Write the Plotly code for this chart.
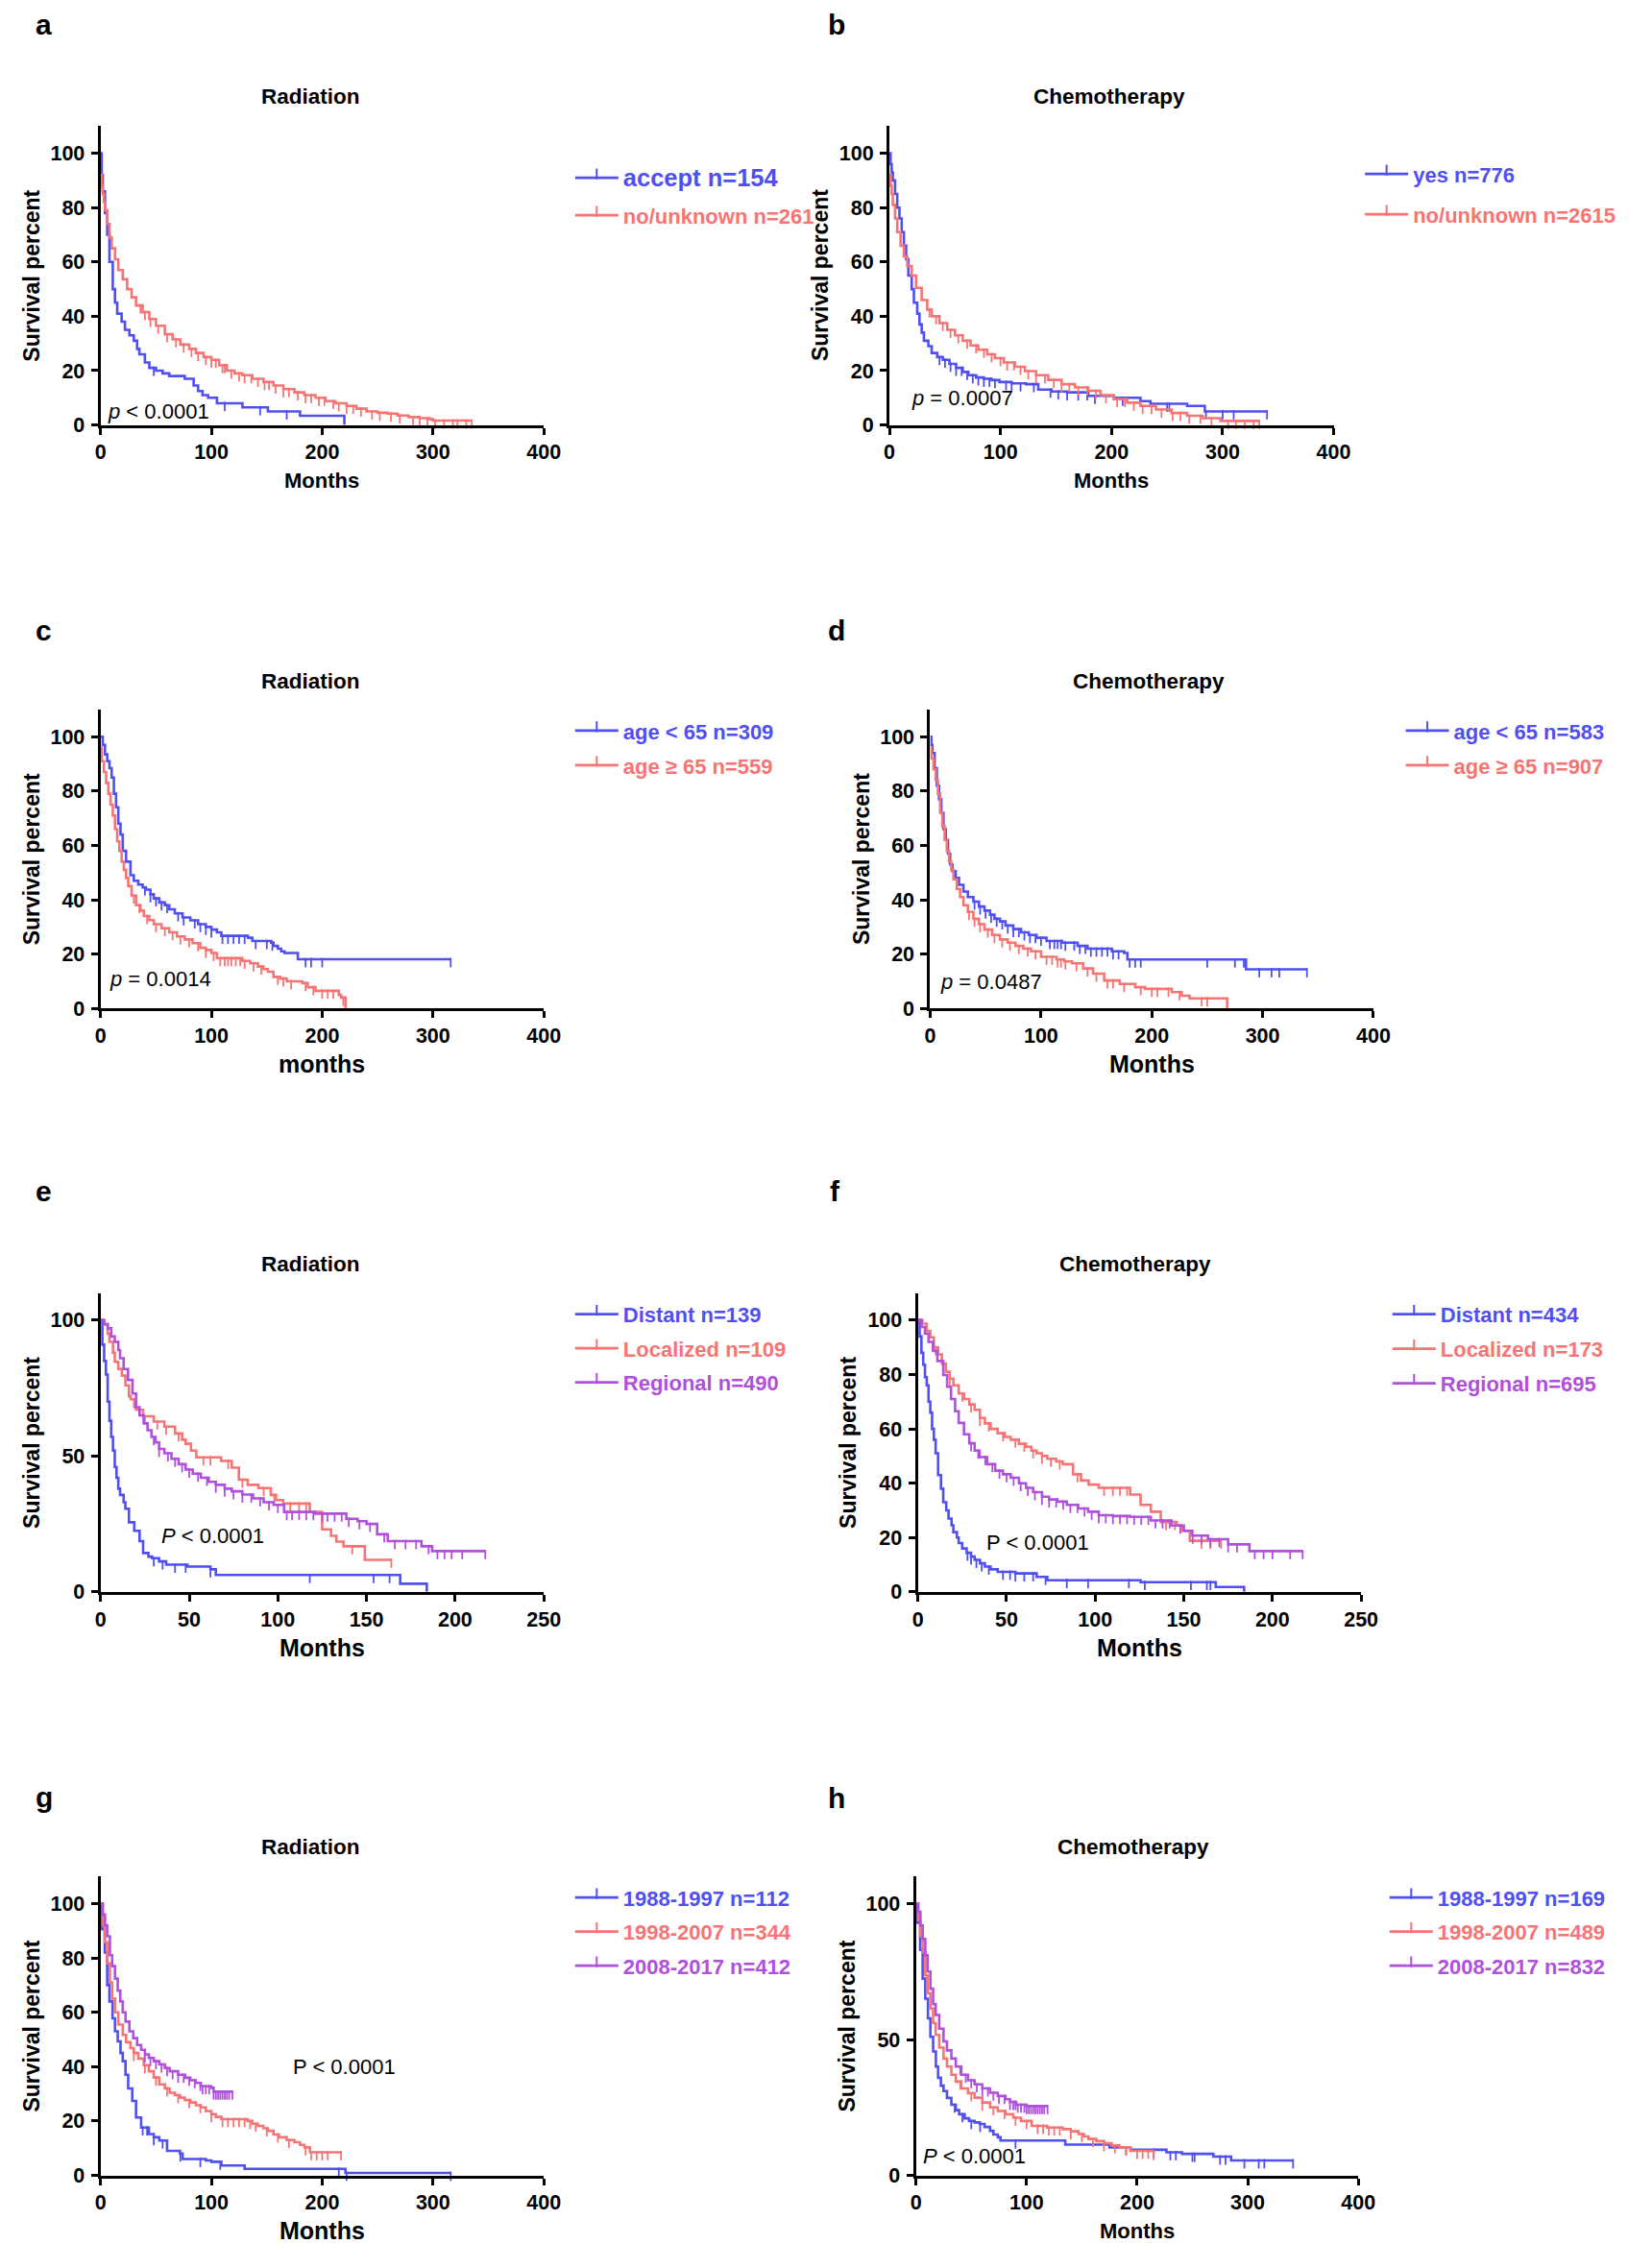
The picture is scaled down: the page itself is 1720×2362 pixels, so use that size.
import numpy as np
import plotly.graph_objects as go

W, H = 1720, 2362
OFF_X, OFF_Y = 10, 8  # page body margin compensation
BLUE, RED, PURPLE = '#4F4FF2', '#F77474', '#B050DC'
FONT = 'Liberation Sans, Arial, Helvetica, sans-serif'

# ---------------- data (months, survival %) ----------------
# a  Radiation
a_accept_t = [0, 1, 2, 4, 6, 8, 11, 13, 15, 19, 22, 26, 30, 33, 35, 40, 44, 50, 56, 62, 76, 84, 88, 92, 97, 105, 128, 151, 180, 220]
a_accept_s = [100, 92, 86, 78, 70, 60, 50, 45, 41, 38, 35, 33, 31, 28, 26, 23, 21, 20, 19, 18, 17, 14.5, 12.5, 11, 10, 8, 6.5, 5, 3.4, 0]
a_accept_c = [48, 112, 144, 168]
a_no_t = [0, 1, 2, 3, 4, 6, 8, 10, 13, 16, 20, 24, 28, 32, 38, 44, 50, 58, 65, 72, 80, 86, 93, 100, 107, 114, 121, 128, 137, 147, 156, 165, 175, 184, 194, 203, 212, 222, 231, 240, 250, 259, 268, 278, 288, 297, 300, 335]
a_no_s = [92, 88, 85, 82, 79, 74, 69, 65, 61, 57, 53.6, 50, 47, 44, 41.5, 39, 36.5, 33.4, 31.5, 29.6, 28, 26.5, 25, 24, 22, 20, 19, 18.3, 17, 15.8, 14.5, 13.2, 12, 11, 10, 8.8, 8, 7, 6, 5, 4.5, 4.2, 3.5, 2.9, 2.5, 2.1, 1.6, 1.6]
a_no_c = [36, 40, 45, 52, 60, 68, 75, 82, 88, 95, 100, 104, 110, 112, 118, 125, 130, 136, 142, 148, 152, 158, 165, 170, 178, 185, 190, 197, 202, 210, 215, 222, 228, 235, 245, 252, 262, 270, 282, 288, 295, 302, 310, 318, 322, 330, 335]

# b  Chemotherapy
b_yes_t = [0, 1, 2, 3, 5, 7, 9, 11, 13, 15, 17, 20, 22, 25, 27, 29, 31, 35, 38, 43, 48, 54, 60, 66, 71, 78, 85, 92, 99, 110, 123, 134, 146, 160, 179, 202, 226, 235, 268, 284, 340]
b_yes_s = [100, 96, 93, 90, 85, 80, 76, 71, 66, 61, 55, 50, 45, 41, 37, 34, 31, 29, 26.5, 25, 24, 22.5, 21, 19.5, 18.3, 17.5, 17, 16.5, 15.8, 15.3, 15, 13, 12.3, 12, 10.7, 10, 8.8, 7.8, 7, 5, 5]
b_yes_c = [45, 50, 55, 60, 65, 70, 75, 80, 85, 90, 95, 105, 110, 118, 130, 145, 152, 160, 170, 178, 185, 210, 250, 252, 285, 300, 310, 340]
b_no_t = [0, 1, 2, 3, 5, 7, 10, 13, 16, 20, 24, 29, 34, 38, 45, 52, 59, 66, 73, 80, 88, 95, 103, 113, 122, 132, 143, 155, 167, 179, 190, 202, 214, 226, 240, 254, 268, 282, 298, 333]
b_no_s = [92, 88, 85, 81, 76, 71, 66, 62, 58.5, 55, 50.5, 46, 42.5, 40, 37.5, 35, 33, 31, 29.3, 27.7, 26, 24.6, 23, 21.4, 19.8, 18.3, 16.6, 15, 13.8, 12.6, 11, 9.5, 8.2, 7, 5.7, 4.4, 3.4, 2.5, 1.5, 1.5]
b_no_c = [36, 42, 48, 55, 62, 70, 78, 85, 92, 100, 106, 112, 118, 125, 132, 140, 148, 155, 162, 170, 178, 186, 195, 205, 212, 220, 228, 236, 245, 255, 262, 270, 280, 290, 305, 312, 320, 328, 333]

# c  Radiation by age
c_lt_t = [0, 2, 4, 6, 8, 10, 12, 14, 16, 18, 20, 23, 27, 30, 34, 38, 41, 45, 48, 53, 58, 62, 67, 74, 81, 88, 95, 100, 105, 109, 133, 137, 154, 156, 160, 163, 166, 178, 316]
c_lt_s = [100, 97, 93.5, 91, 88.4, 85, 79, 74, 68, 64, 58, 54, 49, 47, 45.6, 44.5, 43.7, 42, 40.5, 39, 38, 36.5, 35, 33.5, 32.4, 31, 30, 29, 28, 26.7, 26, 24.8, 24.2, 23, 22, 21, 20.4, 18.1, 18.1]
c_lt_c = [40, 45, 50, 55, 60, 70, 75, 85, 90, 95, 100, 110, 115, 120, 125, 130, 140, 150, 155, 185, 190, 200, 316]
c_ge_t = [0, 1, 3, 5, 7, 9, 11, 13, 15, 17, 19, 21, 23, 25, 28, 32, 36, 39, 44, 48, 55, 62, 69, 76, 83, 90, 95, 100, 105, 128, 135, 142, 147, 151, 156, 162, 168, 182, 187, 194, 215, 217, 221]
c_ge_s = [96, 91, 87, 83, 79, 75, 71, 66, 61.5, 58, 54, 51, 48, 45, 41.5, 38, 36, 34, 32.5, 31, 29.5, 28, 26.5, 25.4, 24, 22.3, 21.5, 20.4, 18.5, 17.5, 16.6, 15.4, 14.5, 13.5, 11.6, 11, 10, 9.3, 7.8, 6.5, 5, 4, 0]
c_ge_c = [30, 35, 42, 50, 58, 65, 72, 80, 88, 95, 102, 108, 112, 115, 118, 122, 126, 130, 138, 145, 160, 165, 172, 185, 192, 200, 205, 210, 219]

# d  Chemotherapy by age
d_lt_t = [0, 1, 2, 4, 6, 8, 10, 12, 14, 16, 18, 20, 23, 26, 30, 34, 39, 44, 49, 54, 58, 63, 68, 75, 82, 89, 96, 105, 119, 133, 142, 164, 175, 178, 285, 340]
d_lt_s = [100, 97, 94, 88.4, 82, 77, 72, 66, 62, 57, 53, 50.5, 48, 45.5, 43, 41, 39.3, 37.5, 36, 34.5, 33, 32, 30.5, 29.2, 28, 27, 26, 24.8, 24.2, 23, 22, 21, 20.4, 18, 14.4, 14.4]
d_lt_c = [40, 45, 50, 55, 60, 65, 70, 75, 80, 85, 90, 95, 100, 108, 112, 115, 118, 122, 130, 135, 140, 145, 150, 155, 160, 165, 170, 180, 185, 190, 250, 275, 283, 297, 308, 315, 340]
d_ge_t = [0, 1, 3, 5, 7, 9, 11, 13, 15, 17, 19, 21, 24, 27, 30, 34, 39, 44, 49, 56, 63, 70, 77, 84, 91, 100, 114, 121, 128, 138, 147, 157, 171, 185, 194, 218, 227, 234, 268]
d_ge_s = [96, 92, 88, 84, 79, 72, 67, 62, 58, 54, 51, 47.5, 44, 41, 38, 35.5, 33, 31, 29, 27, 25.4, 24.2, 23, 22, 21, 19, 18, 17.3, 16.6, 14.7, 12.8, 10.3, 9, 7.8, 7.2, 6, 4.7, 3.7, 0]
d_ge_c = [35, 40, 45, 52, 58, 65, 72, 80, 88, 95, 105, 110, 115, 118, 122, 132, 142, 150, 160, 165, 175, 190, 200, 205, 215, 225, 245, 250]

# e  Radiation by stage
e_dist_t = [0, 1, 2, 3, 4, 5, 6, 7, 8, 9, 10, 11, 13, 14, 16, 19, 22, 24, 27, 29, 33, 37, 49, 62, 65, 169, 184]
e_dist_s = [100, 91, 85, 80, 70, 63, 57, 52, 46, 42, 38, 35.7, 33, 30.6, 25.6, 22.5, 18.7, 14.3, 13, 12.4, 11.2, 10, 9.3, 8.3, 6.2, 3, 0]
e_dist_c = [30, 35, 42, 48, 62, 118, 154, 163]
e_loc_t = [0, 2, 4, 5, 7, 8, 10, 12, 14, 16, 17, 19, 20, 24, 30, 36, 42, 46, 48, 51, 54, 68, 74, 78, 83, 89, 96, 99, 103, 118, 125, 130, 133, 137, 149, 164]
e_loc_s = [100, 98.5, 95, 92, 88, 84.7, 82, 79.6, 76, 72, 70.9, 68, 67, 64.6, 62.7, 60.8, 58.3, 56, 54.5, 52, 49.5, 48.2, 45.7, 41.3, 39.4, 38.2, 35.7, 33.8, 32.5, 29.4, 23, 20.6, 18.5, 16.8, 11.8, 11.8]
e_loc_c = [25, 32, 37, 44, 58, 62, 72, 80, 92, 98, 107, 112, 116, 142, 164]
e_reg_t = [0, 2, 4, 6, 8, 10, 11, 13, 15.5, 18, 20, 22, 24.3, 26.5, 28.7, 31, 33, 36, 40, 44, 48, 52, 56.6, 61, 65, 70, 74, 80, 86, 92, 97.6, 103.5, 121, 133, 138.6, 145, 150, 156, 162, 180, 181, 187, 217]
e_reg_s = [100, 98.5, 97, 94, 92, 89, 86, 82, 78, 73, 68, 65, 62, 59.5, 57, 55, 52.6, 51, 49, 47, 45, 43.5, 42, 40.5, 39.4, 38, 37, 35.8, 34.4, 33, 32, 29.4, 28.8, 28.8, 26.9, 26, 25, 21.2, 18.7, 18.7, 16.8, 15, 15]
e_reg_c = [30, 33, 38, 42, 46, 50, 55, 60, 65, 70, 75, 80, 85, 90, 95, 100, 105, 108, 112, 116, 120, 125, 128, 132, 136, 140, 146, 152, 160, 166, 172, 178, 185, 190, 194, 198, 204, 217]

# f  Chemotherapy by stage
f_dist_t = [0, 1, 2, 3, 4, 5, 6, 7, 8, 9, 10, 11.4, 13, 14.3, 16, 17.3, 19, 20, 22, 23, 25, 27.5, 30, 32, 35, 37.8, 41, 45, 55, 67, 73, 125.6, 168, 184]
f_dist_s = [100, 94, 88, 83.6, 79, 76, 70, 66, 60, 56, 51, 43, 38, 33, 30, 27, 24.5, 22, 20, 18, 16, 14.4, 13, 11.8, 10.5, 9.3, 8.3, 7.4, 6.8, 5.5, 4.3, 3.6, 1.8, 0]
f_dist_c = [28, 30, 33, 36, 40, 48, 52, 55, 60, 65, 72, 84, 96, 119, 128, 154, 163, 165]
f_loc_t = [0, 2.6, 5, 7, 9, 11.4, 13.5, 15.8, 18, 20, 23, 26, 29, 32, 35, 37.8, 41, 45, 49, 52.4, 57, 61, 64, 67, 70, 73, 78, 81.7, 87.5, 92, 96.3, 102, 119.7, 125.6, 131.4, 137, 146, 149, 153.4, 171]
f_loc_s = [100, 98.7, 96, 93.7, 90, 87.4, 84, 81, 78.5, 76, 73, 71, 69, 67, 64, 62, 60, 58.4, 57, 56, 54.5, 53.4, 52, 51, 50, 49, 48, 47, 43.3, 41, 39.5, 38.3, 35.8, 32, 29.5, 25.7, 24.4, 22.5, 18.8, 18.8]
f_loc_c = [10, 18, 25, 30, 35, 40, 48, 55, 60, 65, 70, 75, 80, 90, 105, 110, 114, 118, 140, 145, 160, 165, 171]
f_reg_t = [0, 2, 4, 6, 8.5, 11, 14.3, 16.5, 18.7, 21, 23, 26, 29, 32, 34.8, 39, 43.6, 48, 52.4, 57, 61, 65, 70, 74, 78.7, 84, 90.4, 96, 102, 110, 119.7, 131.4, 143, 150, 154.8, 163.6, 175, 187, 217]
f_reg_s = [100, 97.5, 95, 92, 88.7, 85, 79.8, 75.5, 71, 66.5, 62.2, 58, 54.7, 52, 49.6, 47, 44.6, 43.3, 42, 40, 38.3, 36.7, 35, 34, 33.2, 32, 30.7, 29.5, 28.2, 27.9, 27.6, 26.3, 24.4, 22.5, 20.7, 19.4, 17.5, 15, 15]
f_reg_c = [30, 34, 38, 42, 46, 50, 54, 58, 62, 66, 70, 74, 78, 82, 86, 90, 94, 98, 102, 106, 110, 114, 118, 122, 126, 130, 134, 138, 142, 148, 155, 160, 165, 170, 175, 180, 190, 195, 200, 210, 217]

# g  Radiation by period
g_p1_t = [0, 1.4, 3.75, 6, 8, 10.8, 13, 15.5, 18, 20, 22.5, 24.9, 28.6, 32, 36.6, 43.6, 48, 53, 60, 71.7, 74, 95, 100, 109, 130, 221, 316]
g_p1_s = [100, 90.6, 82, 70, 64, 57.8, 53, 49.3, 45, 42, 37, 32, 27.4, 21.3, 17.6, 15.2, 14, 12.8, 9, 8, 6, 5.5, 5, 3.6, 2.4, 0.9, 0.9]
g_p1_c = [38, 42, 48, 56, 72, 90, 108, 215, 222, 316]
g_p2_t = [0, 2, 3.75, 6, 8.4, 10.5, 13, 16, 20, 23, 27, 30, 34, 39, 43.6, 48, 53, 58, 62.4, 67, 71.7, 76, 81, 86, 90.5, 95, 100, 104, 109, 132.7, 137, 142, 147, 151, 156, 161, 168, 175, 180, 184, 189, 217]
g_p2_s = [100, 92, 85.8, 78, 71, 65, 60, 55.5, 51.7, 49, 46.8, 45, 43, 40.5, 38.3, 36, 33.5, 32, 30.4, 29.5, 28.6, 27.7, 26.8, 25.8, 25, 23.7, 22.5, 21.5, 20.7, 20, 19, 18.2, 17.3, 16.4, 15, 14, 13, 12.2, 11.2, 10.3, 8.5, 8.5]
g_p2_c = [30, 40, 50, 60, 70, 80, 90, 100, 110, 115, 120, 125, 130, 135, 140, 150, 160, 170, 185, 190, 195, 200, 205, 217]
g_p3_t = [0, 2, 4, 6, 8.4, 10.5, 13, 15.5, 17.8, 20, 22.5, 26, 29.5, 33, 36.6, 40, 43.6, 48, 53, 58, 62.4, 70, 76.4, 81, 85.8, 90.5, 100, 102, 119]
g_p3_s = [100, 96, 92, 88, 81, 77, 72.4, 68, 64, 60, 56.6, 53, 50.5, 48, 46.2, 44.5, 43.2, 42, 40.8, 39.5, 38.3, 37, 35.9, 35, 34, 32.8, 32.2, 30.8, 30.8]
g_p3_c = [40, 45, 50, 55, 60, 65, 70, 75, 80, 85, 90, 92, 95, 98, 102, 104, 106, 108, 110, 112, 114, 116, 119]

# h  Chemotherapy by period
h_p1_t = [0, 1.4, 3.75, 6, 8.4, 10.8, 13, 15.5, 18, 20, 22.5, 24.9, 28, 32, 36, 39, 44, 48, 53, 57.7, 62, 67, 70, 74, 76.4, 135, 175, 194, 226.5, 240.6, 269, 285, 341]
h_p1_s = [100, 93, 83, 72.4, 65, 57.8, 51, 45.6, 40, 35.9, 33, 31, 28.5, 26, 24, 22.5, 21, 20, 19.5, 18.9, 17.8, 16.4, 15, 14, 12.8, 11.3, 10.3, 9.4, 8.5, 7.9, 6.9, 5.5, 5.5]
h_p1_c = [35, 42, 50, 58, 90, 190, 215, 230, 235, 250, 252, 275, 280, 297, 310, 315, 341]
h_p2_t = [0, 2, 3.75, 6, 8.4, 10.5, 13, 15.5, 17.8, 21, 24.9, 28, 32, 36, 41, 47, 53, 60, 67, 74, 81, 88, 95, 104.6, 118.6, 132.7, 140, 147, 152, 156, 163, 170, 177, 184, 194, 215]
h_p2_s = [100, 94, 88, 82, 73.6, 67, 61.4, 56, 51.7, 47, 43, 40, 37, 34.5, 32, 30.2, 28.6, 26.8, 25, 23.7, 22.5, 21.2, 20, 18.2, 17.6, 17, 16.2, 15.2, 14.3, 13.4, 12.6, 11.8, 11, 10.3, 9, 8.5]
h_p2_c = [40, 50, 60, 70, 80, 90, 100, 110, 115, 120, 125, 130, 140, 150, 160, 170, 180, 190, 200, 205, 210, 215]
h_p3_t = [0, 2, 4, 6, 8.4, 10.5, 13, 15.5, 17.8, 21, 24.9, 28, 32, 36, 41, 47, 53, 60, 67, 74, 81, 85, 90.5, 100, 119]
h_p3_s = [100, 97, 92, 87, 81, 75, 68.7, 63, 59, 54, 49.3, 46, 43, 40, 37, 35, 33.5, 32, 30.4, 29.2, 28, 27, 26, 25.5, 25.5]
h_p3_c = [40, 45, 50, 55, 60, 65, 70, 75, 80, 85, 88, 90, 92, 95, 98, 100, 102, 104, 106, 108, 110, 112, 114, 116, 119]

# tick labels
ticks_400 = [0, 100, 200, 300, 400]
ticks_250 = [0, 50, 100, 150, 200, 250]
ticks_y20 = [0, 20, 40, 60, 80, 100]
ticks_y50 = [0, 50, 100]

# ---------------- panel layout (pixel geometry) ----------------
panels = [
    dict(letter='a', title='Radiation', xl=102, xr=570, yt=132, yb=445, xmax=400, xt=ticks_400, yt_vals=ticks_y20,
         xtitle='Months', xtsize=22, letter_y=26, letter_x=31, title_x=324, title_y=101,
         pval='<i>p</i> &lt; 0.0001', px=5, py=5,
         leg_x=603, leg_y=185, leg_gap=39,
         series=[(a_accept_t, a_accept_s, a_accept_c, BLUE, '<span style="font-size:25.5px">accept n=154</span>'),
                 (a_no_t, a_no_s, a_no_c, RED, 'no/unknown n=261')]),
    dict(letter='b', title='Chemotherapy', xl=935, xr=1404, yt=132, yb=445, xmax=400, xt=ticks_400, yt_vals=ticks_y20,
         xtitle='Months', xtsize=22, letter_y=26, letter_x=868, title_x=1167, title_y=101,
         pval='<i>p</i> = 0.0007', px=18, py=10,
         leg_x=1437, leg_y=181, leg_gap=42,
         series=[(b_yes_t, b_yes_s, b_yes_c, BLUE, 'yes n=776'),
                 (b_no_t, b_no_s, b_no_c, RED, 'no/unknown n=2615')]),
    dict(letter='c', title='Radiation', xl=102, xr=570, yt=743, yb=1056, xmax=400, xt=ticks_400, yt_vals=ticks_y20,
         xtitle='months', xtsize=25, letter_y=660, letter_x=31, title_x=324, title_y=713,
         pval='<i>p</i> = 0.0014', px=6, py=11,
         leg_x=603, leg_y=764, leg_gap=36,
         series=[(c_lt_t, c_lt_s, c_lt_c, BLUE, 'age &lt; 65 n=309'),
                 (c_ge_t, c_ge_s, c_ge_c, RED, 'age ≥ 65 n=559')]),
    dict(letter='d', title='Chemotherapy', xl=978, xr=1446, yt=743, yb=1056, xmax=400, xt=ticks_400, yt_vals=ticks_y20,
         xtitle='Months', xtsize=25, letter_y=660, letter_x=868, title_x=1209, title_y=713,
         pval='<i>p</i> = 0.0487', px=7.5, py=9.7,
         leg_x=1480, leg_y=764, leg_gap=36,
         series=[(d_lt_t, d_lt_s, d_lt_c, BLUE, 'age &lt; 65 n=583'),
                 (d_ge_t, d_ge_s, d_ge_c, RED, 'age ≥ 65 n=907')]),
    dict(letter='e', title='Radiation', xl=102, xr=570, yt=1354, yb=1667, xmax=250, xt=ticks_250, yt_vals=ticks_y50,
         xtitle='Months', xtsize=25, letter_y=1247, letter_x=31, title_x=324, title_y=1324,
         pval='<i>P</i> &lt; 0.0001', px=33, py=20.6,
         leg_x=603, leg_y=1375, leg_gap=35.5,
         series=[(e_dist_t, e_dist_s, e_dist_c, BLUE, 'Distant n=139'),
                 (e_loc_t, e_loc_s, e_loc_c, RED, 'Localized n=109'),
                 (e_reg_t, e_reg_s, e_reg_c, PURPLE, 'Regional n=490')]),
    dict(letter='f', title='Chemotherapy', xl=965, xr=1433, yt=1354, yb=1667, xmax=250, xt=ticks_250, yt_vals=ticks_y20,
         xtitle='Months', xtsize=25, letter_y=1247, letter_x=870, title_x=1195, title_y=1324,
         pval='P &lt; 0.0001', px=37.8, py=18.1,
         leg_x=1466, leg_y=1375, leg_gap=36,
         series=[(f_dist_t, f_dist_s, f_dist_c, BLUE, 'Distant n=434'),
                 (f_loc_t, f_loc_s, f_loc_c, RED, 'Localized n=173'),
                 (f_reg_t, f_reg_s, f_reg_c, PURPLE, 'Regional n=695')]),
    dict(letter='g', title='Radiation', xl=102, xr=570, yt=1965, yb=2278, xmax=400, xt=ticks_400, yt_vals=ticks_y20,
         xtitle='Months', xtsize=25, letter_y=1882, letter_x=31, title_x=324, title_y=1934,
         pval='P &lt; 0.0001', px=172, py=40,
         leg_x=603, leg_y=1986, leg_gap=35.5,
         series=[(g_p1_t, g_p1_s, g_p1_c, BLUE, '1988-1997 n=112'),
                 (g_p2_t, g_p2_s, g_p2_c, RED, '1998-2007 n=344'),
                 (g_p3_t, g_p3_s, g_p3_c, PURPLE, '2008-2017 n=412')]),
    dict(letter='h', title='Chemotherapy', xl=963, xr=1430, yt=1965, yb=2278, xmax=400, xt=ticks_400, yt_vals=ticks_y50,
         xtitle='Months', xtsize=22, letter_y=1883, letter_x=868, title_x=1193, title_y=1934,
         pval='<i>P</i> &lt; 0.0001', px=4.7, py=6.9,
         leg_x=1463, leg_y=1986, leg_gap=35.5,
         series=[(h_p1_t, h_p1_s, h_p1_c, BLUE, '1988-1997 n=169'),
                 (h_p2_t, h_p2_s, h_p2_c, RED, '1998-2007 n=489'),
                 (h_p3_t, h_p3_s, h_p3_c, PURPLE, '2008-2017 n=832')]),
]


def px_x(v):
    return (v - OFF_X) / W


def px_y(v):
    return 1 - (v - OFF_Y) / H


def step_at(t, s, c):
    t = np.asarray(t, float)
    s = np.asarray(s, float)
    idx = np.searchsorted(t, np.asarray(c, float), side='right') - 1
    idx = np.clip(idx, 0, len(s) - 1)
    return s[idx]


fig = go.Figure()
layout = dict(width=W, height=H, margin=dict(l=0, r=0, t=0, b=0),
              paper_bgcolor='white', plot_bgcolor='white', showlegend=True)
annotations = []
LEG_ITEM_H = 22 * 1.3 + 3

for k, p in enumerate(panels, start=1):
    sfx = '' if k == 1 else str(k)
    xa, ya = 'x' + sfx, 'y' + sfx
    legname = 'legend' + sfx
    axis_common = dict(showline=True, linecolor='black', linewidth=3.2, ticks='outside', ticklen=7,
                       tickwidth=3, tickcolor='black', showgrid=False, zeroline=False, fixedrange=True,
                       tickfont=dict(family=FONT, size=21.5, color='black', weight='bold'))
    layout['xaxis' + sfx] = dict(axis_common, domain=[px_x(p['xl']), px_x(p['xr'])], range=[0, p['xmax']],
                                 tickvals=p['xt'], anchor=ya)
    layout['yaxis' + sfx] = dict(axis_common, domain=[px_y(p['yb']), px_y(p['yt'])], range=[0, 110],
                                 tickvals=p['yt_vals'], anchor=xa, ticklabelstandoff=2)
    for j, (t, s, c, col, label) in enumerate(p['series']):
        fig.add_trace(go.Scatter(x=t, y=s, mode='lines', line=dict(color=col, width=2.6, shape='hv'),
                                 xaxis=xa, yaxis=ya, showlegend=False, hoverinfo='skip'))
        fig.add_trace(go.Scatter(x=c, y=step_at(t, s, c), mode='markers',
                                 marker=dict(symbol='line-ns', size=7, color=col, angle=0, standoff=3.5,
                                             line=dict(color=col, width=1.8)),
                                 xaxis=xa, yaxis=ya, showlegend=False, hoverinfo='skip', cliponaxis=False))
        fig.add_trace(go.Scatter(x=[None], y=[None], mode='lines+markers', xaxis=xa, yaxis=ya,
                                 line=dict(color=col, width=2.8),
                                 marker=dict(symbol='line-ns', size=8, color=col, angle=0, standoff=4,
                                             line=dict(color=col, width=2)),
                                 name=f'<span style="color:{col}">{label}</span>',
                                 legend=legname, legendgroup=f'g{k}_{j}', showlegend=True))
    gap = p['leg_gap'] - LEG_ITEM_H
    layout[legname] = dict(x=px_x(p['leg_x'] - 5), y=px_y(p['leg_y'] - 4 - LEG_ITEM_H / 2), xanchor='left',
                           yanchor='top', bgcolor='rgba(0,0,0,0)', borderwidth=0, traceorder='grouped',
                           tracegroupgap=max(gap, 0), itemclick=False, itemdoubleclick=False, itemwidth=45,
                           font=dict(family=FONT, size=22, weight='bold'))
    # panel letter
    annotations.append(dict(text=p['letter'], x=px_x(p['letter_x']), y=px_y(p['letter_y']), xref='paper', yref='paper',
                            xanchor='left', yanchor='middle', showarrow=False,
                            font=dict(family=FONT, size=30, color='black', weight='bold')))
    # title
    annotations.append(dict(text=p['title'], x=px_x(p['title_x']), y=px_y(p['title_y']), xref='paper', yref='paper',
                            xanchor='center', yanchor='middle', showarrow=False,
                            font=dict(family=FONT, size=22.5, color='black', weight='bold')))
    # x title
    annotations.append(dict(text=p['xtitle'], x=px_x((p['xl'] + p['xr']) / 2), y=px_y(p['yb'] + 58),
                            xref='paper', yref='paper', xanchor='center', yanchor='middle', showarrow=False,
                            font=dict(family=FONT, size=p['xtsize'], color='black', weight='bold')))
    # y title
    annotations.append(dict(text='Survival percent', x=px_x(p['xl'] - 73), y=px_y((p['yt'] + p['yb']) / 2),
                            xref='paper', yref='paper', xanchor='center', yanchor='middle', showarrow=False,
                            textangle=-90, font=dict(family=FONT, size=23, color='black', weight='bold')))
    # p-value
    annotations.append(dict(text=p['pval'], x=p['px'], y=p['py'], xref=xa, yref=ya,
                            xanchor='left', yanchor='middle', showarrow=False,
                            font=dict(family=FONT, size=22, color='black')))

layout['annotations'] = annotations
fig.update_layout(**layout)
fig.write_html('out.html')
